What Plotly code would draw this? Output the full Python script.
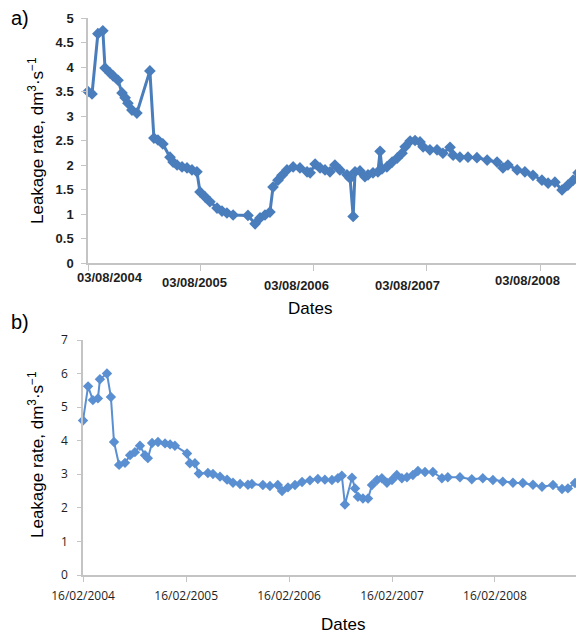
import plotly.graph_objects as go

# ---------------- Data: panel a ----------------
dates_a = [
    "2004-08-03", "2004-08-16", "2004-09-04", "2004-09-20", "2004-09-27", "2004-10-13",
    "2004-10-23", "2004-11-08", "2004-11-21", "2004-12-01", "2004-12-10", "2004-12-23",
    "2005-01-08", "2005-02-19", "2005-03-04", "2005-03-17", "2005-04-02", "2005-04-25",
    "2005-05-05", "2005-05-18", "2005-06-03", "2005-06-19", "2005-07-05", "2005-07-21",
    "2005-07-31", "2005-08-16", "2005-09-01", "2005-09-24", "2005-10-10", "2005-10-26",
    "2005-11-15", "2006-01-02", "2006-01-25", "2006-02-10", "2006-02-26", "2006-03-14",
    "2006-03-24", "2006-04-09", "2006-04-22", "2006-05-08", "2006-05-28", "2006-06-19",
    "2006-07-12", "2006-07-22", "2006-08-07", "2006-08-23", "2006-09-08", "2006-09-24",
    "2006-10-10", "2006-10-26", "2006-11-18", "2006-11-28", "2006-12-08", "2006-12-14",
    "2006-12-30", "2007-01-15", "2007-01-25", "2007-02-10", "2007-02-26", "2007-03-05",
    "2007-03-11", "2007-03-27", "2007-04-13", "2007-04-29", "2007-05-15", "2007-05-25",
    "2007-06-10", "2007-06-26", "2007-07-12", "2007-07-22", "2007-08-13", "2007-09-05",
    "2007-09-24", "2007-10-17", "2007-10-27", "2007-11-18", "2007-12-14", "2008-01-12",
    "2008-02-14", "2008-03-17", "2008-04-05", "2008-04-21", "2008-05-21", "2008-06-15",
    "2008-07-11", "2008-08-09", "2008-08-29", "2008-09-20", "2008-10-13", "2008-11-01",
    "2008-11-18", "2008-12-04", "2008-12-20",
]
leak_a = [
    3.50, 3.45, 4.68, 4.74, 3.98, 3.88,
    3.82, 3.73, 3.47, 3.37, 3.26, 3.12,
    3.06, 3.92, 2.55, 2.51, 2.43, 2.16,
    2.06, 2.00, 1.96, 1.94, 1.90, 1.86,
    1.45, 1.35, 1.25, 1.12, 1.06, 1.02,
    0.98, 0.97, 0.80, 0.92, 0.98, 1.04,
    1.55, 1.69, 1.79, 1.90, 1.96, 1.94,
    1.86, 1.84, 2.02, 1.94, 1.90, 1.86,
    2.00, 1.90, 1.80, 1.73, 0.95, 1.86,
    1.88, 1.76, 1.80, 1.84, 1.86, 2.28,
    1.92, 1.96, 2.06, 2.14, 2.24, 2.37,
    2.49, 2.50, 2.47, 2.37, 2.31, 2.31,
    2.24, 2.36, 2.20, 2.16, 2.16, 2.15,
    2.10, 2.06, 1.94, 2.00, 1.90, 1.86,
    1.79, 1.69, 1.63, 1.65, 1.49, 1.59,
    1.69, 1.84, 2.08,
]
xticks_a = ["2004-08-03", "2005-08-03", "2006-08-03", "2007-08-03", "2008-08-03"]
xtext_a = ["03/08/2004", "03/08/2005", "03/08/2006", "03/08/2007", "03/08/2008"]
yticks_a = [0, 0.5, 1, 1.5, 2, 2.5, 3, 3.5, 4, 4.5, 5]
ytext_a = ["0", "0.5", "1", "1.5", "2", "2.5", "3", "3.5", "4", "4.5", "5"]

# ---------------- Data: panel b ----------------
dates_b = [
    "2004-02-16", "2004-03-05", "2004-03-22", "2004-04-09", "2004-04-16", "2004-05-11",
    "2004-05-25", "2004-06-05", "2004-06-23", "2004-07-14", "2004-08-01", "2004-08-18",
    "2004-09-05", "2004-09-23", "2004-10-03", "2004-10-18", "2004-11-08", "2004-12-03",
    "2004-12-21", "2005-01-07", "2005-02-19", "2005-03-01", "2005-03-19", "2005-04-02",
    "2005-05-04", "2005-05-22", "2005-06-16", "2005-07-11", "2005-08-01", "2005-08-26",
    "2005-09-23", "2005-10-07", "2005-11-15", "2005-12-10", "2006-01-07", "2006-01-22",
    "2006-02-12", "2006-03-09", "2006-04-03", "2006-05-01", "2006-05-29", "2006-06-23",
    "2006-07-18", "2006-08-08", "2006-08-22", "2006-09-02", "2006-09-27", "2006-10-08",
    "2006-10-18", "2006-11-05", "2006-11-23", "2006-12-07", "2006-12-25", "2007-01-11",
    "2007-01-29", "2007-02-16", "2007-03-05", "2007-03-23", "2007-04-10", "2007-05-01",
    "2007-05-19", "2007-06-13", "2007-07-11", "2007-08-12", "2007-09-02", "2007-10-15",
    "2007-11-26", "2008-01-04", "2008-02-09", "2008-03-15", "2008-04-20", "2008-05-25",
    "2008-06-30", "2008-08-01", "2008-09-09", "2008-10-11", "2008-11-01", "2008-11-26",
    "2008-12-20",
]
leak_b = [
    4.60, 5.62, 5.21, 5.26, 5.83, 6.00,
    5.30, 3.96, 3.28, 3.34, 3.57, 3.66,
    3.85, 3.57, 3.48, 3.93, 3.96, 3.92,
    3.89, 3.85, 3.62, 3.33, 3.33, 3.02,
    3.04, 3.01, 2.93, 2.84, 2.75, 2.71,
    2.69, 2.71, 2.68, 2.65, 2.68, 2.50,
    2.61, 2.68, 2.77, 2.82, 2.86, 2.84,
    2.83, 2.88, 2.96, 2.10, 2.90, 2.58,
    2.33, 2.28, 2.28, 2.68, 2.83, 2.88,
    2.75, 2.83, 2.98, 2.88, 2.91, 2.98,
    3.10, 3.07, 3.07, 2.88, 2.91, 2.91,
    2.85, 2.88, 2.83, 2.78, 2.75, 2.74,
    2.69, 2.63, 2.68, 2.56, 2.58, 2.74,
    2.88,
]
xticks_b = ["2004-02-16", "2005-02-16", "2006-02-16", "2007-02-16", "2008-02-16"]
xtext_b = ["16/02/2004", "16/02/2005", "16/02/2006", "16/02/2007", "16/02/2008"]
yticks_b = [0, 1, 2, 3, 4, 5, 6, 7]
ytext_b = ["0", "1", "2", "3", "4", "5", "6", "7"]

# The page body has an 8px margin: the figure is drawn from (8, 8) of the window.
OFF = 8
W, H = 584 - OFF, 635 - OFF


def px(x):
    return (x - OFF) / W


def py(y):
    return 1 - (y - OFF) / H


col_a = "#4a7dbb"
col_b = "#5a8fd2"
axis_col = "#c4c4c4"

fig = go.Figure()
fig.add_trace(go.Scatter(
    x=dates_a, y=leak_a, mode="lines+markers", xaxis="x", yaxis="y",
    line=dict(color=col_a, width=3),
    marker=dict(symbol="diamond", size=9, color=col_a),
    showlegend=False, cliponaxis=False,
))
fig.add_trace(go.Scatter(
    x=dates_b, y=leak_b, mode="lines+markers", xaxis="x2", yaxis="y2",
    line=dict(color=col_b, width=2),
    marker=dict(symbol="diamond", size=8, color=col_b),
    showlegend=False, cliponaxis=False,
))

font_a = dict(family="Liberation Sans, Arial, sans-serif", size=13, color="#1e1e1e")
font_b = dict(family="Open Sans, sans-serif", size=12, color="#1e1e1e")

fig.update_layout(
    width=W, height=H,
    margin=dict(l=0, r=0, t=0, b=0),
    paper_bgcolor="white", plot_bgcolor="white",
    xaxis=dict(
        domain=[px(88), 1], anchor="y", type="date", automargin=False,
        range=["2004-08-03", "2008-12-23"],
        tickvals=xticks_a, showticklabels=False,
        ticks="outside", ticklen=6, tickcolor=axis_col,
        showline=True, linecolor=axis_col, linewidth=1.5,
        showgrid=False, zeroline=False,
    ),
    yaxis=dict(
        domain=[py(263), py(18)], anchor="x", automargin=False,
        range=[0, 5],
        tickvals=yticks_a, ticktext=["<b>%s</b>" % t for t in ytext_a],
        tickfont=font_a, ticks="outside", ticklen=5, tickcolor=axis_col,
        showline=True, linecolor=axis_col, linewidth=1.5,
        showgrid=False, zeroline=False, ticklabelstandoff=5,
    ),
    xaxis2=dict(
        domain=[px(83), 1], anchor="y2", type="date", automargin=False,
        range=["2004-02-16", "2008-12-28"],
        tickvals=xticks_b, ticktext=xtext_b,
        tickfont=font_b, ticks="outside", ticklen=5, tickcolor=axis_col,
        showline=True, linecolor=axis_col, linewidth=1.5,
        showgrid=False, zeroline=False, ticklabelstandoff=4,
    ),
    yaxis2=dict(
        domain=[py(575), py(340)], anchor="x2", automargin=False,
        range=[0, 7],
        tickvals=yticks_b, ticktext=ytext_b,
        tickfont=font_b, ticks="outside", ticklen=4, tickcolor=axis_col,
        showline=True, linecolor=axis_col, linewidth=1.5,
        showgrid=False, zeroline=False, ticklabelstandoff=7,
    ),
)

title_font = dict(family="Liberation Sans, Arial, sans-serif", size=17, color="black")
ytitle = "Leakage rate, dm<sup>3</sup>·s<sup>−1</sup>"
annotations = [
    dict(text="a)", x=px(9), y=py(18), xanchor="left", yanchor="middle",
         font=dict(family="Liberation Sans, Arial, sans-serif", size=20, color="black")),
    dict(text="b)", x=px(9), y=py(322), xanchor="left", yanchor="middle",
         font=dict(family="Liberation Sans, Arial, sans-serif", size=20, color="black")),
    dict(text=ytitle, textangle=-90, x=px(36), y=py(141),
         xanchor="center", yanchor="middle", font=title_font),
    dict(text=ytitle, textangle=-90, x=px(36), y=py(455),
         xanchor="center", yanchor="middle", font=title_font),
    dict(text="Dates", x=px(310), y=py(308), xanchor="center", yanchor="middle",
         font=title_font),
    dict(text="Dates", x=px(343), y=py(624), xanchor="center", yanchor="middle",
         font=title_font),
]
for a in annotations:
    a.update(xref="paper", yref="paper", showarrow=False)

# Panel a date labels sit slightly off their ticks in the original (scanned) figure
label_shift_a = [22, -6, -17, -19, -13]
label_y_a = [277, 282, 285, 285, 281]
for tv, tt, dx, ly in zip(xticks_a, xtext_a, label_shift_a, label_y_a):
    annotations.append(dict(
        text="<b>%s</b>" % tt, x=tv, xref="x", y=py(ly), yref="paper",
        xanchor="center", yanchor="middle", xshift=dx, showarrow=False, font=font_a,
    ))

fig.update_layout(annotations=annotations)

fig.write_html("out.html")
